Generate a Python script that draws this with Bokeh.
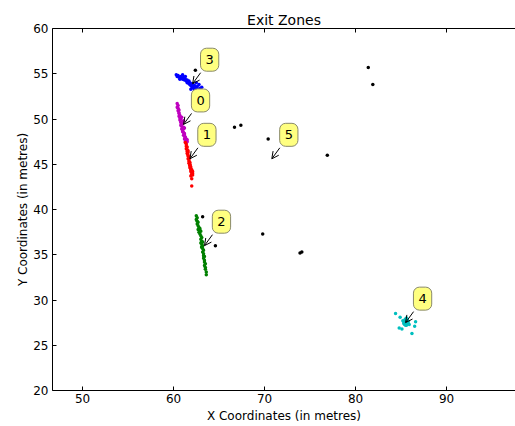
from bokeh.plotting import figure
from bokeh.models import Range1d, LinearAxis, Arrow, OpenHead, ColumnDataSource, FixedTicker
from bokeh.core.properties import value
from bokeh.embed import file_html
from bokeh.resources import INLINE

# ---- data ----
x_ticks = [50, 60, 70, 80, 90]
y_ticks = [20, 25, 30, 35, 40, 45, 50, 55, 60]

# zone 0 (magenta)
zone0_x = [60.4,60.5,60.4,60.5,60.6,60.5,60.6,60.6,60.7,60.6,60.7,60.8,60.7,60.8,60.8,60.9,60.8,60.9,61.0,60.9,61.0,61.0,61.1,61.0,61.1,61.1,61.2,61.1,61.2,61.2,61.3,61.2,61.3,61.3,61.4,61.3,61.4,61.4,61.5,61.4,61.5,60.9,61.1,61.2]
zone0_y = [51.7,51.5,51.3,51.2,51.0,50.9,50.7,50.6,50.4,50.3,50.1,50.0,49.9,49.7,49.6,49.4,49.3,49.2,49.0,48.9,48.8,49.5,49.1,48.6,48.5,48.9,48.3,48.2,48.1,48.4,47.9,47.8,47.7,48.0,47.6,47.5,47.8,47.6,47.5,47.4,47.7,50.2,49.8,49.0]
# zone 1 (red)
zone1_x = [61.3,61.4,61.4,61.5,61.4,61.5,61.5,61.6,61.5,61.6,61.6,61.7,61.6,61.7,61.7,61.8,61.7,61.8,61.8,61.9,61.8,61.9,61.9,62.0,61.9,62.0,62.0,62.1,62.0,62.1,62.1,62.0,62.0,61.9,61.6,61.8]
zone1_y = [47.4,47.2,47.0,46.9,46.7,46.6,46.4,46.3,46.2,46.0,45.9,45.8,45.6,45.5,45.3,45.2,45.1,44.9,44.8,44.7,44.6,44.5,44.4,44.3,44.2,44.1,44.4,44.0,43.9,43.8,44.2,43.4,42.6,43.7,46.5,45.0]
# zone 2 (green)
zone2_x = [62.5,62.6,62.5,62.6,62.7,62.6,62.7,62.8,62.7,62.9,62.8,63.0,62.9,63.0,63.1,63.0,63.1,63.2,63.1,63.2,63.1,63.2,63.3,63.2,63.3,63.3,63.4,63.3,63.4,63.4,63.5,63.4,63.5,63.5,63.6,63.6,62.9,63.0,63.1]
zone2_y = [39.3,39.1,38.9,38.7,38.6,38.4,38.2,38.0,37.8,37.7,37.5,37.6,37.3,37.1,36.9,36.7,36.5,36.4,36.2,36.0,35.8,35.7,35.5,35.3,35.1,34.9,34.8,34.6,34.4,34.2,34.0,33.8,33.6,33.4,33.1,32.8,37.9,36.3,35.9]
# zone 3 (blue)
zone3_x = [60.3,60.4,60.5,60.6,60.8,60.9,61.0,61.1,61.2,61.3,61.4,61.5,61.5,61.6,61.7,61.7,61.8,61.8,61.9,61.9,62.0,62.0,62.1,62.1,62.2,62.2,62.3,62.4,62.5,62.6,62.7,62.9,61.3,61.0,60.7,62.5,62.8,63.1,61.9,62.3]
zone3_y = [54.9,54.7,54.8,54.6,54.7,54.5,54.4,54.6,54.3,54.4,54.2,54.0,54.3,54.1,53.9,54.2,53.8,54.0,53.7,53.9,53.6,53.8,53.5,53.9,53.6,53.4,53.7,53.5,53.3,53.6,53.2,53.4,54.7,54.9,54.4,54.0,53.8,53.5,53.3,53.2]
# zone 4 (cyan)
zone4_x = [85.3,85.4,85.5,85.6,85.7,85.4,85.5,85.6,85.3,85.8,85.5,85.6,85.4,85.7,85.2,85.9,85.5,85.6,84.4,84.8,86.2,86.5,86.6,84.9,85.1]
zone4_y = [27.6,27.8,27.5,27.7,27.4,27.3,27.9,27.2,27.4,27.6,27.6,27.5,27.5,27.8,27.7,27.3,27.2,28.0,28.5,26.9,26.3,27.1,27.6,28.1,26.8]
# zone 5 (black, scattered)
zone5_x = [81.4,81.9,66.7,67.4,70.4,76.9,69.8,73.9,74.1,62.4,63.2,64.6]
zone5_y = [55.7,53.8,49.1,49.3,47.8,46.0,37.3,35.2,35.3,55.4,39.2,36.0]

# annotation targets
labels = ["0", "1", "2", "3", "4", "5"]
label_x = [61.1, 61.8, 63.4, 62.1, 85.5, 70.8]
label_y = [49.4, 45.6, 36.0, 53.9, 27.5, 45.6]

# ---- figure ----
X0, X1 = 46.7, 97.58
Y0, Y1 = 20, 60
FW, FH = 463, 362

p = figure(width=515, height=426, output_backend="svg", toolbar_location=None,
           x_range=Range1d(X0, X1), y_range=Range1d(Y0, Y1),
           min_border_left=52, min_border_right=0, min_border_top=28, min_border_bottom=36,
           x_axis_label="X Coordinates (in metres)", y_axis_label="Y Coordinates (in metres)",
           title="Exit Zones")
p.outline_line_color = None
p.xgrid.visible = False
p.ygrid.visible = False
p.background_fill_color = "white"
p.border_fill_color = "white"

p.title.align = "center"
p.title.text_font = "DejaVu Sans"
p.title.text_font_style = "normal"
p.title.text_font_size = "14px"
p.title.text_color = "black"
p.title.standoff = 2

for ax_, ticks in ((p.xaxis[0], x_ticks), (p.yaxis[0], y_ticks)):
    ax_.ticker = FixedTicker(ticks=ticks)
    ax_.major_tick_in = 4
    ax_.major_tick_out = 0
    ax_.minor_tick_in = 0
    ax_.minor_tick_out = 0
    ax_.axis_line_color = "black"
    ax_.major_tick_line_color = "black"
    ax_.major_label_text_font = "DejaVu Sans"
    ax_.major_label_text_font_size = "12px"
    ax_.major_label_text_color = "black"
    ax_.axis_label_text_font = "DejaVu Sans"
    ax_.axis_label_text_font_size = "12px"
    ax_.axis_label_text_font_style = "normal"
    ax_.axis_label_text_color = "black"

p.xaxis[0].major_label_standoff = 3
p.xaxis[0].axis_label_standoff = 3
p.yaxis[0].major_label_standoff = 4
p.yaxis[0].axis_label_standoff = 0

top = LinearAxis(ticker=FixedTicker(ticks=x_ticks),
                 major_label_overrides={t: "" for t in x_ticks},
                 major_tick_in=4, major_tick_out=0, minor_tick_in=0, minor_tick_out=0,
                 axis_line_color="black", major_label_standoff=0)
p.add_layout(top, "above")

def pts(xs, ys, color):
    p.scatter(xs, ys, size=3.5, marker="circle", fill_color=color, line_color=None)

pts(zone0_x, zone0_y, "#bf00bf")
pts(zone1_x, zone1_y, "#ff0000")
pts(zone2_x, zone2_y, "#008000")
pts(zone3_x, zone3_y, "#0000ff")
pts(zone4_x, zone4_y, "#00bfbf")
pts(zone5_x, zone5_y, "#000000")

sx = FW / (X1 - X0)
sy = FH / (Y1 - Y0)
src = ColumnDataSource(dict(
    ax=label_x, ay=label_y, lab=labels,
    tx=[v + 17 / sx for v in label_x], ty=[v + 24 / sy for v in label_y],
    bx=[v + 8 / sx for v in label_x], by=[v + 11 / sy for v in label_y],
))

p.add_layout(Arrow(end=OpenHead(size=7, line_width=1, line_color="black"),
                   x_start="bx", y_start="by", x_end="ax", y_end="ay",
                   line_color="black", line_width=1, source=src))

p.text(x="tx", y="ty", text="lab", source=src, text_align="center", text_baseline="middle",
       text_font=value("DejaVu Sans"), text_font_size="13px", text_color="black",
       background_fill_color="#ffff80", border_line_color="#8a8a6a",
       border_radius=6, padding=(5, 7))

open("out.html", "w").write(file_html(p, INLINE))
